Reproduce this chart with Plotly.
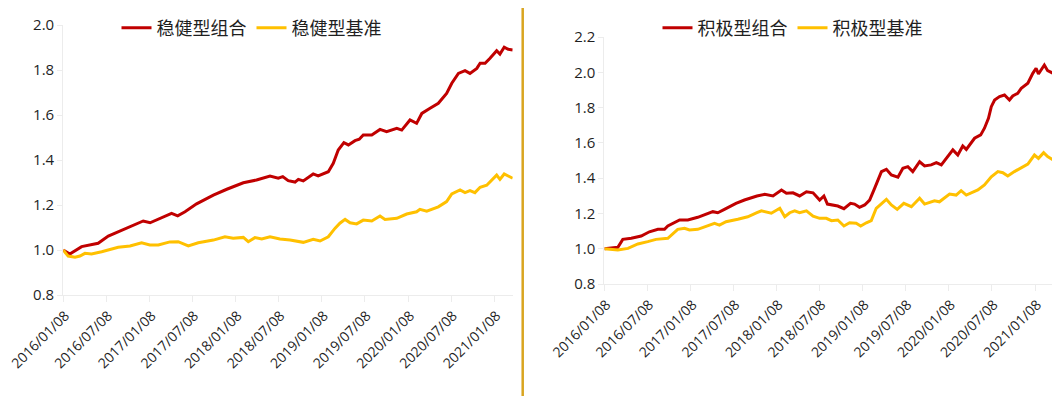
import plotly.graph_objects as go

# ---------------- data ----------------
tick_dates = ["2016-01-08", "2016-07-08", "2017-01-08", "2017-07-08", "2018-01-08",
              "2018-07-08", "2019-01-08", "2019-07-08", "2020-01-08", "2020-07-08", "2021-01-08"]
tick_labels = ["2016/01/08", "2016/07/08", "2017/01/08", "2017/07/08", "2018/01/08",
               "2018/07/08", "2019/01/08", "2019/07/08", "2020/01/08", "2020/07/08", "2021/01/08"]

# 稳健型组合
steady_port_dates = ["2016-01-08", "2016-02-05", "2016-03-26", "2016-06-04", "2016-07-17", "2016-09-11",
                     "2016-11-07", "2016-12-12", "2017-01-10", "2017-03-14", "2017-04-11", "2017-05-07",
                     "2017-06-07", "2017-07-26", "2017-09-13", "2017-10-05", "2017-12-01", "2018-02-09",
                     "2018-04-06", "2018-06-02", "2018-07-07", "2018-07-26", "2018-08-18", "2018-09-16",
                     "2018-09-30", "2018-10-21", "2018-12-02", "2018-12-23", "2019-02-04", "2019-02-25",
                     "2019-03-18", "2019-04-11", "2019-04-30", "2019-05-28", "2019-06-15", "2019-07-02",
                     "2019-08-07", "2019-09-11", "2019-10-09", "2019-11-21", "2019-12-12", "2020-01-16",
                     "2020-02-13", "2020-03-06", "2020-04-10", "2020-05-15", "2020-06-19", "2020-07-11",
                     "2020-08-08", "2020-09-05", "2020-09-26", "2020-10-25", "2020-11-08", "2020-11-29",
                     "2020-12-20", "2021-01-17", "2021-01-31", "2021-02-18", "2021-03-07", "2021-03-26"]
steady_port = [1.000, 0.982, 1.015, 1.030, 1.062, 1.086,
               1.111, 1.129, 1.121, 1.152, 1.163, 1.152,
               1.170, 1.205, 1.232, 1.244, 1.270, 1.299,
               1.311, 1.329, 1.319, 1.326, 1.308, 1.302,
               1.314, 1.307, 1.338, 1.329, 1.348, 1.385,
               1.444, 1.477, 1.467, 1.486, 1.492, 1.511,
               1.511, 1.536, 1.526, 1.541, 1.533, 1.578,
               1.563, 1.607, 1.630, 1.652, 1.696, 1.741,
               1.785, 1.797, 1.785, 1.807, 1.830, 1.830,
               1.852, 1.886, 1.871, 1.901, 1.892, 1.889]

# 稳健型基准
steady_bench_dates = ["2016-01-08", "2016-01-29", "2016-02-27", "2016-03-19", "2016-04-09", "2016-05-07",
                      "2016-06-19", "2016-07-24", "2016-08-28", "2016-10-17", "2016-12-05", "2017-01-09",
                      "2017-02-14", "2017-04-04", "2017-05-09", "2017-06-21", "2017-08-02", "2017-10-05",
                      "2017-11-23", "2017-12-28", "2018-02-09", "2018-03-02", "2018-03-30", "2018-04-28",
                      "2018-06-02", "2018-07-14", "2018-08-26", "2018-10-21", "2018-12-02", "2018-12-31",
                      "2019-02-04", "2019-03-04", "2019-03-25", "2019-04-16", "2019-05-07", "2019-06-04",
                      "2019-07-02", "2019-08-07", "2019-09-11", "2019-10-02", "2019-11-21", "2020-01-02",
                      "2020-02-13", "2020-02-27", "2020-03-27", "2020-05-15", "2020-06-19", "2020-07-11",
                      "2020-08-15", "2020-09-05", "2020-09-26", "2020-10-17", "2020-11-08", "2020-12-06",
                      "2020-12-27", "2021-01-17", "2021-01-31", "2021-02-18", "2021-03-07", "2021-03-26"]
steady_bench = [1.000, 0.973, 0.968, 0.973, 0.985, 0.982,
                0.992, 1.003, 1.012, 1.018, 1.032, 1.022,
                1.022, 1.036, 1.037, 1.018, 1.032, 1.044,
                1.059, 1.052, 1.056, 1.037, 1.055, 1.049,
                1.059, 1.049, 1.044, 1.034, 1.048, 1.040,
                1.059, 1.096, 1.119, 1.136, 1.121, 1.116,
                1.133, 1.129, 1.151, 1.136, 1.141, 1.160,
                1.170, 1.181, 1.173, 1.192, 1.215, 1.249,
                1.267, 1.255, 1.264, 1.255, 1.279, 1.288,
                1.311, 1.333, 1.314, 1.338, 1.329, 1.319]

# 积极型组合
active_port_dates = ["2016-01-08", "2016-03-05", "2016-03-26", "2016-05-01", "2016-06-12", "2016-07-17",
                     "2016-08-22", "2016-09-19", "2016-10-03", "2016-11-22", "2016-12-27", "2017-02-07",
                     "2017-04-12", "2017-05-03", "2017-05-31", "2017-07-19", "2017-08-24", "2017-10-16",
                     "2017-11-18", "2017-12-23", "2018-01-28", "2018-02-18", "2018-03-18", "2018-04-15",
                     "2018-05-14", "2018-06-11", "2018-07-09", "2018-07-27", "2018-08-11", "2018-09-03",
                     "2018-09-24", "2018-10-20", "2018-11-17", "2018-12-04", "2018-12-25", "2019-01-16",
                     "2019-02-06", "2019-02-27", "2019-03-28", "2019-04-18", "2019-05-09", "2019-06-06",
                     "2019-06-27", "2019-07-18", "2019-08-08", "2019-09-06", "2019-09-27", "2019-10-25",
                     "2019-11-16", "2019-12-07", "2020-01-04", "2020-01-25", "2020-02-15", "2020-03-07",
                     "2020-03-22", "2020-04-26", "2020-05-22", "2020-06-07", "2020-06-24", "2020-07-06",
                     "2020-07-20", "2020-08-10", "2020-08-31", "2020-09-21", "2020-10-05", "2020-10-26",
                     "2020-11-10", "2020-12-08", "2020-12-29", "2021-01-12", "2021-01-22", "2021-02-16",
                     "2021-03-02", "2021-03-26"]
active_port = [1.000, 1.008, 1.053, 1.059, 1.072, 1.096,
               1.110, 1.110, 1.129, 1.163, 1.163, 1.178,
               1.210, 1.204, 1.223, 1.257, 1.276, 1.299,
               1.308, 1.299, 1.333, 1.314, 1.317, 1.299,
               1.323, 1.317, 1.276, 1.299, 1.253, 1.248,
               1.242, 1.227, 1.257, 1.253, 1.235, 1.248,
               1.276, 1.342, 1.437, 1.450, 1.418, 1.405,
               1.456, 1.465, 1.437, 1.493, 1.469, 1.475,
               1.488, 1.475, 1.522, 1.560, 1.531, 1.582,
               1.563, 1.626, 1.645, 1.683, 1.739, 1.805,
               1.843, 1.862, 1.871, 1.843, 1.866, 1.881,
               1.909, 1.938, 1.994, 2.023, 1.990, 2.041,
               2.009, 1.994]

# 积极型基准
active_bench_dates = ["2016-01-08", "2016-03-05", "2016-04-17", "2016-05-29", "2016-07-10", "2016-08-14",
                      "2016-10-03", "2016-10-24", "2016-11-14", "2016-12-13", "2017-01-03", "2017-02-07",
                      "2017-03-08", "2017-04-19", "2017-05-10", "2017-06-07", "2017-07-27", "2017-09-07",
                      "2017-10-16", "2017-11-04", "2017-12-16", "2018-01-21", "2018-02-11", "2018-03-04",
                      "2018-03-25", "2018-04-15", "2018-05-14", "2018-06-11", "2018-07-09", "2018-08-06",
                      "2018-08-28", "2018-09-24", "2018-10-20", "2018-11-13", "2018-12-11", "2018-12-30",
                      "2019-01-23", "2019-02-13", "2019-03-06", "2019-03-28", "2019-04-18", "2019-05-09",
                      "2019-06-03", "2019-07-01", "2019-08-02", "2019-09-06", "2019-09-27", "2019-11-08",
                      "2019-11-29", "2020-01-11", "2020-02-08", "2020-02-29", "2020-03-22", "2020-05-10",
                      "2020-06-07", "2020-07-06", "2020-08-03", "2020-08-24", "2020-09-14", "2020-10-12",
                      "2020-11-07", "2020-12-08", "2021-01-05", "2021-01-22", "2021-02-13", "2021-03-02",
                      "2021-03-26"]
active_bench = [1.000, 0.993, 1.002, 1.027, 1.040, 1.053,
                1.059, 1.083, 1.110, 1.116, 1.106, 1.110,
                1.125, 1.144, 1.134, 1.153, 1.167, 1.181,
                1.204, 1.215, 1.201, 1.229, 1.181, 1.204,
                1.215, 1.204, 1.215, 1.185, 1.172, 1.172,
                1.159, 1.163, 1.129, 1.147, 1.144, 1.129,
                1.147, 1.159, 1.229, 1.257, 1.280, 1.248,
                1.223, 1.257, 1.238, 1.286, 1.253, 1.272,
                1.266, 1.310, 1.304, 1.329, 1.304, 1.333,
                1.361, 1.408, 1.437, 1.431, 1.412, 1.437,
                1.456, 1.480, 1.531, 1.512, 1.544, 1.522,
                1.503]

RED = "#C00000"
GOLD = "#FFC000"
FAINT = "#ECECEC"
TXT = "#1f1f1f"
FONT = "Open Sans, Noto Sans CJK SC, sans-serif"
CJK = "Noto Sans CJK SC, sans-serif"

# the page body has an 8px margin; the figure is sized and laid out to compensate
OFF = 8
W, H = 1060 - OFF, 396 - OFF


def px_x(p):
    return (p - OFF) / W


def px_y(p):
    return 1 - (p - OFF) / H


fig = go.Figure()
fig.add_trace(go.Scatter(x=steady_port_dates, y=steady_port, mode="lines", name="稳健型组合",
                         line=dict(color=RED, width=3), xaxis="x", yaxis="y", legend="legend"))
fig.add_trace(go.Scatter(x=steady_bench_dates, y=steady_bench, mode="lines", name="稳健型基准",
                         line=dict(color=GOLD, width=3), xaxis="x", yaxis="y", legend="legend"))
fig.add_trace(go.Scatter(x=active_port_dates, y=active_port, mode="lines", name="积极型组合",
                         line=dict(color=RED, width=3), xaxis="x2", yaxis="y2", legend="legend2"))
fig.add_trace(go.Scatter(x=active_bench_dates, y=active_bench, mode="lines", name="积极型基准",
                         line=dict(color=GOLD, width=3), xaxis="x2", yaxis="y2", legend="legend2"))


def xaxis_cfg(domain, anchor):
    return dict(domain=domain, anchor=anchor, type="date",
                range=["2016-01-08", "2021-03-26"],
                tickmode="array", tickvals=tick_dates, ticktext=tick_labels,
                tickangle=-45, tickfont=dict(size=14, color=TXT, family=FONT),
                ticklabeloverflow="allow", ticklabelshift=2,
                showgrid=False, zeroline=False, showline=True, linecolor=FAINT, linewidth=1,
                ticks="outside", ticklen=6, tickcolor=FAINT, automargin=False)


def yaxis_cfg(domain, anchor, rng):
    return dict(domain=domain, anchor=anchor, range=rng, dtick=0.2, tick0=0.8,
                tickformat=".1f", tickfont=dict(size=15, color=TXT, family=FONT),
                showgrid=False, zeroline=False, showline=True, linecolor=FAINT, linewidth=1,
                ticks="outside", ticklen=5, tickcolor=FAINT, automargin=False)


fig.update_layout(
    width=W, height=H,
    margin=dict(l=0, r=0, t=0, b=0),
    paper_bgcolor="white", plot_bgcolor="white",
    font=dict(family=FONT, color=TXT),
    xaxis=xaxis_cfg([px_x(63.2), px_x(512.7)], "y"),
    yaxis=yaxis_cfg([px_y(295), px_y(25)], "x", [0.8, 2.0]),
    xaxis2=xaxis_cfg([px_x(604.4), px_x(1053.3)], "y2"),
    yaxis2=yaxis_cfg([px_y(284), px_y(37)], "x2", [0.8, 2.2]),
    legend=dict(orientation="h", x=px_x(251.5), xanchor="center", y=px_y(28), yanchor="middle",
                font=dict(size=18, color=TXT, family=CJK),
                bgcolor="rgba(0,0,0,0)", itemwidth=30, tracegroupgap=0),
    legend2=dict(orientation="h", x=px_x(792.5), xanchor="center", y=px_y(28), yanchor="middle",
                 font=dict(size=18, color=TXT, family=CJK),
                 bgcolor="rgba(0,0,0,0)", itemwidth=30, tracegroupgap=0),
    shapes=[dict(type="line", xref="paper", yref="paper", x0=px_x(522.7), x1=px_x(522.7),
                 y0=0, y1=1, line=dict(color="#D9A520", width=2.5))],
    showlegend=True,
)

fig.write_html("out.html")
